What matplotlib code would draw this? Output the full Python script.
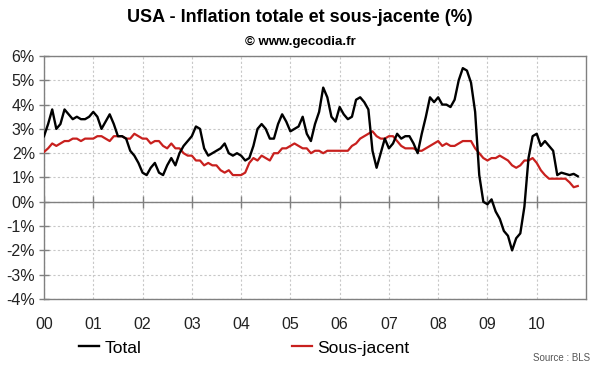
import matplotlib
matplotlib.use("Agg")
import matplotlib.pyplot as plt
import numpy as np

plt.rcParams['font.family'] = ['Liberation Sans', 'DejaVu Sans']

# Monthly year-over-year inflation, Jan 2000 - Nov 2010 (%)
total = [
    2.7, 3.2, 3.8, 3.0, 3.2, 3.8, 3.6, 3.4, 3.5, 3.4, 3.4, 3.5,   # 2000
    3.7, 3.5, 3.0, 3.3, 3.6, 3.2, 2.7, 2.7, 2.6, 2.1, 1.9, 1.6,   # 2001
    1.2, 1.1, 1.4, 1.6, 1.2, 1.1, 1.5, 1.8, 1.5, 2.0, 2.3, 2.5,   # 2002
    2.7, 3.1, 3.0, 2.2, 1.9, 2.0, 2.1, 2.2, 2.4, 2.0, 1.9, 2.0,   # 2003
    1.9, 1.7, 1.8, 2.3, 3.0, 3.2, 3.0, 2.6, 2.6, 3.2, 3.6, 3.3,   # 2004
    2.9, 3.0, 3.1, 3.5, 2.8, 2.5, 3.2, 3.7, 4.7, 4.3, 3.5, 3.3,   # 2005
    3.9, 3.6, 3.4, 3.5, 4.2, 4.3, 4.1, 3.8, 2.1, 1.4, 2.0, 2.6,   # 2006
    2.2, 2.4, 2.8, 2.6, 2.7, 2.7, 2.4, 2.0, 2.8, 3.5, 4.3, 4.1,   # 2007
    4.3, 4.0, 4.0, 3.9, 4.2, 5.0, 5.5, 5.4, 4.9, 3.7, 1.1, 0.0,   # 2008
    -0.1, 0.1, -0.4, -0.7, -1.2, -1.4, -2.0, -1.5, -1.3, -0.2, 1.8, 2.7,  # 2009
    2.8, 2.3, 2.5, 2.3, 2.1, 1.1, 1.2, 1.15, 1.1, 1.15, 1.05,     # 2010
]
core = [
    2.05, 2.2, 2.4, 2.3, 2.4, 2.5, 2.5, 2.6, 2.6, 2.5, 2.6, 2.6,  # 2000
    2.6, 2.7, 2.7, 2.6, 2.5, 2.7, 2.7, 2.7, 2.6, 2.6, 2.8, 2.7,   # 2001
    2.6, 2.6, 2.4, 2.5, 2.5, 2.3, 2.2, 2.4, 2.2, 2.2, 2.0, 1.9,   # 2002
    1.9, 1.7, 1.7, 1.5, 1.6, 1.5, 1.5, 1.3, 1.2, 1.3, 1.1, 1.1,   # 2003
    1.1, 1.2, 1.6, 1.8, 1.7, 1.9, 1.8, 1.7, 2.0, 2.0, 2.2, 2.2,   # 2004
    2.3, 2.4, 2.3, 2.2, 2.2, 2.0, 2.1, 2.1, 2.0, 2.1, 2.1, 2.1,   # 2005
    2.1, 2.1, 2.1, 2.3, 2.4, 2.6, 2.7, 2.8, 2.9, 2.7, 2.6, 2.6,   # 2006
    2.7, 2.7, 2.5, 2.3, 2.2, 2.2, 2.2, 2.1, 2.1, 2.2, 2.3, 2.4,   # 2007
    2.5, 2.3, 2.4, 2.3, 2.3, 2.4, 2.5, 2.5, 2.5, 2.2, 2.0, 1.8,   # 2008
    1.7, 1.8, 1.8, 1.9, 1.8, 1.7, 1.5, 1.4, 1.5, 1.7, 1.7, 1.8,   # 2009
    1.6, 1.3, 1.1, 0.95, 0.95, 0.95, 0.95, 0.95, 0.8, 0.6, 0.65,  # 2010
]
year_labels = ['00', '01', '02', '03', '04', '05', '06', '07', '08', '09', '10']
y_ticks = [-4, -3, -2, -1, 0, 1, 2, 3, 4, 5, 6]

t = 2000 + np.arange(len(total)) / 12.0
years = 2000 + np.arange(len(year_labels))

fig = plt.figure(figsize=(6.0, 3.72), dpi=100)
ax = fig.add_axes([44/600, 1-299/372, (586-44)/600, (299-56)/372])

gray = '#808080'
ax.set_xlim(2000, 2011)
ax.set_ylim(-4, 6)
ax.set_yticks(y_ticks)
ax.set_yticklabels([f'{v}%' for v in y_ticks])
ax.set_xticks(years)
ax.set_xticklabels(year_labels)
ax.grid(True, color='#c8c8c8', linestyle=(0, (2, 2)), linewidth=0.8)
ax.set_axisbelow(True)
for s in ax.spines.values():
    s.set_color(gray)
    s.set_linewidth(1.0)
ax.tick_params(axis='y', direction='inout', length=7, width=1, color=gray,
               labelsize=11.5, pad=3, labelcolor='#222222')
ax.tick_params(axis='x', length=0, labelsize=11.5, pad=13, labelcolor='#222222')
for lab in ax.get_xticklabels():
    lab.set_x(lab.get_position()[0])

ax.axhline(0, color=gray, linewidth=1.0, zorder=2)
ax.plot(years, np.zeros(len(years)), linestyle='none', marker='|', ms=8,
        mew=1.0, color=gray, zorder=2)

l1, = ax.plot(t, total, color='black', linewidth=1.7, zorder=4, label='Total')
l2, = ax.plot(t, core, color='#C8201E', linewidth=1.6, zorder=3, label='Sous-jacent')

fig.legend(handles=[l1, l2], loc='center left', bbox_to_anchor=(79/600, 1-348/372),
           ncol=2, frameon=False, fontsize=12.5, handlelength=1.15, handletextpad=0.3,
           columnspacing=8.7, borderaxespad=0, borderpad=0)

fig.text(0.5, 1-18/372, 'USA - Inflation totale et sous-jacente (%)', ha='center',
         va='center', fontsize=13, fontweight='bold')
fig.text(0.5, 1-42/372, '\u00a9 www.gecodia.fr', ha='center', va='center',
         fontsize=9.5, fontweight='bold')
fig.text(590/600, 1-358/372, 'Source : BLS', ha='right', va='center', fontsize=7,
         color='#555555')

fig.savefig('out.png', dpi=100, facecolor='white')
